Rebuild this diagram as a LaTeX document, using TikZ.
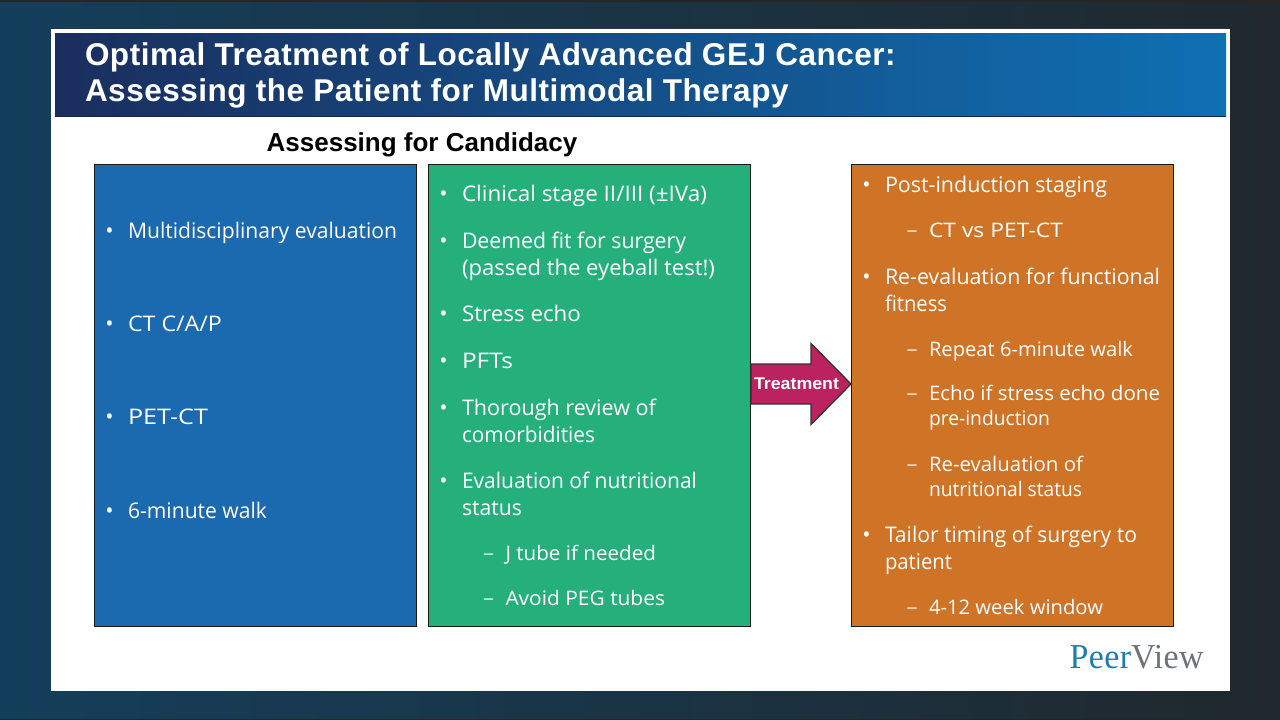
\documentclass[tikz,border=0pt]{standalone}
\usepackage{fontspec}
\usepackage{graphicx}
\setmainfont{Open Sans}
\newfontfamily\titlefont{Liberation Sans}
\newfontfamily\titlewide[LetterSpace=1.6]{Liberation Sans}
\newfontfamily\logofont[LetterSpace=1]{Liberation Serif}
\newfontfamily\dashfont{Open Sans Light}
\definecolor{bluebox}{HTML}{1B69AF}
\definecolor{greenbox}{HTML}{25B07B}
\definecolor{orangebox}{HTML}{CF7327}
\definecolor{arrowred}{HTML}{BC2260}
\definecolor{bgleft}{HTML}{143F5C}
\definecolor{bgmid}{HTML}{1E2F3B}
\definecolor{bgright}{HTML}{20282D}
\definecolor{headleft}{HTML}{1A2E5E}
\definecolor{headright}{HTML}{0F70B2}
\definecolor{logoblue}{HTML}{1B7FAB}
\definecolor{logogray}{HTML}{6D7378}
\tikzset{
  x=1pt,y=-1pt,
  panelbox/.style={draw=black!90,line width=1pt},
  lone/.style={anchor=base west,inner sep=0pt,outer sep=0pt,text=white,font=\fontsize{21.5}{27}\selectfont,align=left},
  ltwo/.style={anchor=base west,inner sep=0pt,outer sep=0pt,text=white,font=\fontsize{20}{25}\selectfont,align=left},
  mark1/.style={anchor=base,inner sep=0pt,outer sep=0pt,text=white,font=\fontsize{22}{22}\selectfont},
  mark2/.style={anchor=base,inner sep=0pt,outer sep=0pt,text=white,text opacity=0.75,font=\fontsize{22}{22}\selectfont},
  ttl/.style={anchor=base west,inner sep=0pt,outer sep=0pt,text=white,font=\titlewide\bfseries\fontsize{31.5}{31.5}\selectfont},
}
% width-fitted text: #1 width in pt, #2 text
\newcommand{\fitw}[2]{\resizebox{#1pt}{\height}{#2}}
\newcommand{\itemA}[5]{\node[mark1] (#1m) at (#2-18.5,#3) {•};\node[lone] (#1) at (#2,#3) {\fitw{#4}{#5}};}
\newcommand{\itemB}[5]{\node[mark2] (#1m) at (#2-17,#3) {–};\node[ltwo] (#1) at (#2,#3) {\fitw{#4}{#5}};}
\begin{document}
\begin{tikzpicture}
\useasboundingbox (0,0) rectangle (1280,720);
\fill[left color=bgleft,middle color=bgmid,right color=bgright] (0,0) rectangle (1280,720);
\fill[black!85] (0,0) rectangle (1280,1.5);
\fill[black!85] (0,718.5) rectangle (1280,720);
\fill[white] (51,29) rectangle (1230,691);
\draw[draw=black!80,line width=0.8pt] (51,28.6) -- (1230,28.6);
\fill[left color=headleft,right color=headright] (55,33) rectangle (1226,116);
\draw[draw=headleft!80!black,line width=1.2pt] (55.5,116.5) -- (1226,116.5);
\node[ttl] (t1) at (85,65) {Optimal Treatment of Locally Advanced GEJ Cancer:};
\node[ttl] (t2) at (85,101) {Assessing the Patient for Multimodal Therapy};
\node[anchor=base,inner sep=0pt,font=\titlefont\bfseries\fontsize{26}{26}\selectfont] (sub) at (422,151) {Assessing for Candidacy};
\filldraw[panelbox,fill=bluebox] (94,164) rectangle (416,626.5);
\filldraw[panelbox,fill=greenbox] (428.5,164) rectangle (750.5,626.5);
\filldraw[panelbox,fill=orangebox] (851.5,164) rectangle (1173,626.5);
\filldraw[draw=black!80,line width=1.3pt,fill=arrowred,line join=miter] (751,364) -- (811,364) -- (811,343.5) -- (851,384) -- (811,424.5) -- (811,404) -- (751,404) -- cycle;
\node[anchor=base,inner sep=0pt,text=white,font=\titlefont\bfseries\fontsize{17}{17}\selectfont] (treat) at (796.5,389) {\fitw{85}{Treatment}};
% blue
\itemA{a1}{128}{238}{269}{Multidisciplinary evaluation}
\itemA{a2}{128}{331}{94}{CT C/A/P}
\itemA{a3}{128}{424}{80}{PET-CT}
\itemA{a4}{128}{518}{139}{6-minute walk}
% green
\itemA{b1}{462}{201}{245}{Clinical stage II/III (±IVa)}
\itemA{b2}{462}{248}{224}{Deemed fit for surgery}
\node[lone] (b2b) at (462,275) {\fitw{253}{(passed the eyeball test!)}};
\itemA{b3}{462}{321}{119}{Stress echo}
\itemA{b4}{462}{368}{51}{PFTs}
\itemA{b5}{462}{415}{194}{Thorough review of}
\node[lone] (b5b) at (462,442) {\fitw{133}{comorbidities}};
\itemA{b6}{462}{488}{235}{Evaluation of nutritional}
\node[lone] (b6b) at (462,515) {\fitw{60}{status}};
\itemB{b7}{505.5}{560}{150.5}{J tube if needed}
\itemB{b8}{505.5}{605}{159.5}{Avoid PEG tubes}
% orange
\itemA{c1}{885}{192}{222}{Post-induction staging}
\itemB{c2}{929}{237}{134}{CT vs PET-CT}
\itemA{c3}{885}{284}{275}{Re-evaluation for functional}
\node[lone] (c3b) at (885,311) {\fitw{62}{fitness}};
\itemB{c4}{929}{356}{204}{Repeat 6-minute walk}
\itemB{c5}{929}{400}{231}{Echo if stress echo done}
\node[ltwo] (c5b) at (929,425) {\fitw{121}{pre-induction}};
\itemB{c6}{929}{471}{154}{Re-evaluation of}
\node[ltwo] (c6b) at (929,496) {\fitw{153}{nutritional status}};
\itemA{c7}{885}{542}{252}{Tailor timing of surgery to}
\node[lone] (c7b) at (885,569) {\fitw{67}{patient}};
\itemB{c8}{929}{614}{174}{4-12 week window}
% logo
\node[anchor=base west,inner sep=0pt,font=\logofont\fontsize{35}{35}\selectfont] (logo) at (1069.5,668) {\fitw{134}{\textcolor{logoblue}{Peer}\textcolor{logogray}{View}}};
\end{tikzpicture}
\end{document}
